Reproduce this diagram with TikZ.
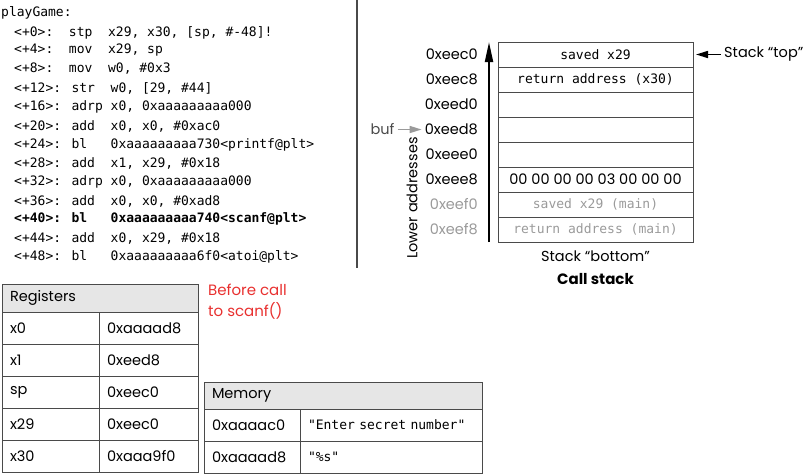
\documentclass[tikz,border=0pt]{standalone}
\usepackage{fontspec}
\setmainfont{Poppins}
\newfontfamily\codefont{DejaVu Sans Mono}
\usetikzlibrary{arrows.meta, positioning}

\definecolor{framegray}{HTML}{4A4A4A}
\definecolor{headgray}{HTML}{E6E6E6}
\definecolor{oldgray}{HTML}{9A9A9A}
\definecolor{notered}{HTML}{E8302F}
\newcommand{\codesize}{\codefont\fontsize{13}{16}\selectfont}

\begin{document}
\begin{tikzpicture}[x=1pt, y=-1pt,
                font=\fontsize{14.5}{17}\selectfont,
                code/.style={anchor=west, inner sep=0pt, font=\codesize},
                stackcell/.style={rectangle, draw=framegray, line width=0.8pt, minimum width=195pt, minimum height=25pt, inner sep=0pt, outer sep=0pt, font=\codesize},
                oldcell/.style={stackcell, text=oldgray},
                addr/.style={inner sep=0pt},
                oldaddr/.style={addr, text=oldgray},
                tcell/.style={rectangle, draw=framegray, line width=0.8pt, outer sep=0pt, inner xsep=8pt, inner ysep=0pt, minimum height=32pt, align=left, text width=#1},
                stackline/.style={draw, line width=2pt, -{Triangle[length=20pt, width=8pt]}},
                pointer/.style={draw, line width=1.6pt, -{Triangle[length=12pt, width=7pt]}}
            ]
                \useasboundingbox (0,0) rectangle (805,475);

                % Code listing
                \node [code] (c_name) at (1,13) {playGame:};
                \node [code] (c_0)  at (14,33)  {<+0>:\ \ stp\ \ x29, x30, [sp, \#-48]!};
                \node [code] (c_4)  at (14,50)  {<+4>:\ \ mov\ \ x29, sp};
                \node [code] (c_8)  at (14,69)  {<+8>:\ \ mov\ \ w0, \#0x3};
                \node [code] (c_12) at (14,88)  {<+12>: str\ \ w0, [29, \#44]};
                \node [code] (c_16) at (14,107) {<+16>: adrp x0, 0xaaaaaaaaa000};
                \node [code] (c_20) at (14,126) {<+20>: add\ \ x0, x0, \#0xac0};
                \node [code] (c_24) at (14,145) {<+24>: bl\ \ \ 0xaaaaaaaaa730<printf@plt>};
                \node [code] (c_28) at (14,163) {<+28>: add\ \ x1, x29, \#0x18};
                \node [code] (c_32) at (14,182) {<+32>: adrp x0, 0xaaaaaaaaa000};
                \node [code] (c_36) at (14,201) {<+36>: add\ \ x0, x0, \#0xad8};
                \node [code, font=\codesize\bfseries] (c_40) at (14,219) {<+40>: bl\ \ \ 0xaaaaaaaaa740<scanf@plt>};
                \node [code] (c_44) at (14,238) {<+44>: add\ \ x0, x29, \#0x18};
                \node [code] (c_48) at (14,257) {<+48>: bl\ \ \ 0xaaaaaaaaa6f0<atoi@plt>};

                % Divider
                \coordinate (div_top) at (357,0);
                \coordinate (div_bot) at (357,268);
                \draw [line width=1.5pt, framegray] (div_top) -- (div_bot);

                % Call stack
                \node [stackcell] (s_0) at (595.5,54.5) {saved x29};
                \node [stackcell, below=0pt of s_0] (s_1) {return address (x30)};
                \node [stackcell, below=0pt of s_1] (s_2) {};
                \node [stackcell, below=0pt of s_2] (s_3) {};
                \node [stackcell, below=0pt of s_3] (s_4) {};
                \node [stackcell, below=0pt of s_4, font=\fontsize{14.5}{17}\selectfont] (s_5) {00 00 00 00 03 00 00 00};
                \node [oldcell, below=0pt of s_5] (s_6) {saved x29 (main)};
                \node [oldcell, below=0pt of s_6] (s_7) {return address (main)};

                \node [addr, left=20pt of s_0] (a_0) {0xeec0};
                \node [addr, left=20pt of s_1] (a_1) {0xeec8};
                \node [addr, left=20pt of s_2] (a_2) {0xeed0};
                \node [addr, left=20pt of s_3] (a_3) {0xeed8};
                \node [addr, left=20pt of s_4] (a_4) {0xeee0};
                \node [addr, left=20pt of s_5] (a_5) {0xeee8};
                \node [oldaddr, left=20pt of s_6] (a_6) {0xeef0};
                \node [oldaddr, left=20pt of s_7] (a_7) {0xeef8};

                \coordinate (stk_low) at ([xshift=-9pt]s_7.south west);
                \coordinate (stk_high) at ([xshift=-9pt]s_0.north west);
                \path [stackline] (stk_low) -- (stk_high);
                \node [rotate=90, inner sep=0pt] (lower) at (412,198) {Lower addresses};

                \node [addr, text=framegray, left=30pt of a_3] (buf) {buf};
                \path [pointer, draw=oldgray] ([xshift=3pt]buf.east) -- ([xshift=-3pt]a_3.west);

                \node [addr, right=31pt of s_0] (top_lbl) {Stack “top”};
                \path [pointer] ([xshift=-3pt]top_lbl.west) -- ([xshift=3pt]s_0.east);

                \node [addr, below=9pt of s_7] (bot_lbl) {Stack “bottom”};
                \node [addr, below=11pt of bot_lbl, font=\fontsize{15}{17}\selectfont\bfseries] (title) {Call stack};

                % Registers
                \node [tcell=180pt, fill=headgray, minimum height=28pt, anchor=north west] (reg_head) at (2,284) {Registers};
                \node [tcell=81pt, below right=0pt of reg_head.south west] (reg_x0) {x0};
                \node [tcell=83pt, right=0pt of reg_x0] (val_x0) {0xaaaad8};
                \node [tcell=81pt, below=0pt of reg_x0] (reg_x1) {x1};
                \node [tcell=83pt, right=0pt of reg_x1] (val_x1) {0xeed8};
                \node [tcell=81pt, below=0pt of reg_x1] (reg_sp) {sp};
                \node [tcell=83pt, right=0pt of reg_sp] (val_sp) {0xeec0};
                \node [tcell=81pt, below=0pt of reg_sp] (reg_x29) {x29};
                \node [tcell=83pt, right=0pt of reg_x29] (val_x29) {0xeec0};
                \node [tcell=81pt, below=0pt of reg_x29] (reg_x30) {x30};
                \node [tcell=83pt, right=0pt of reg_x30] (val_x30) {0xaaa9f0};

                \node [align=left, inner sep=0pt, anchor=north west, text=notered, font=\fontsize{15}{21}\selectfont] (note) at (208,284) {Before call\\to scanf()};

                % Memory
                \node [tcell=262pt, fill=headgray, minimum height=27pt, anchor=north west] (mem_head) at (204,382) {Memory};
                \node [tcell=80pt, below right=0pt of mem_head.south west] (mem_a0) {0xaaaac0};
                \node [tcell=166pt, right=0pt of mem_a0, font=\codesize] (mem_v0) {"Enter secret number"};
                \node [tcell=80pt, below=0pt of mem_a0] (mem_a1) {0xaaaad8};
                \node [tcell=166pt, right=0pt of mem_a1, font=\codesize] (mem_v1) {"\%s"};

            \end{tikzpicture}
\end{document}
